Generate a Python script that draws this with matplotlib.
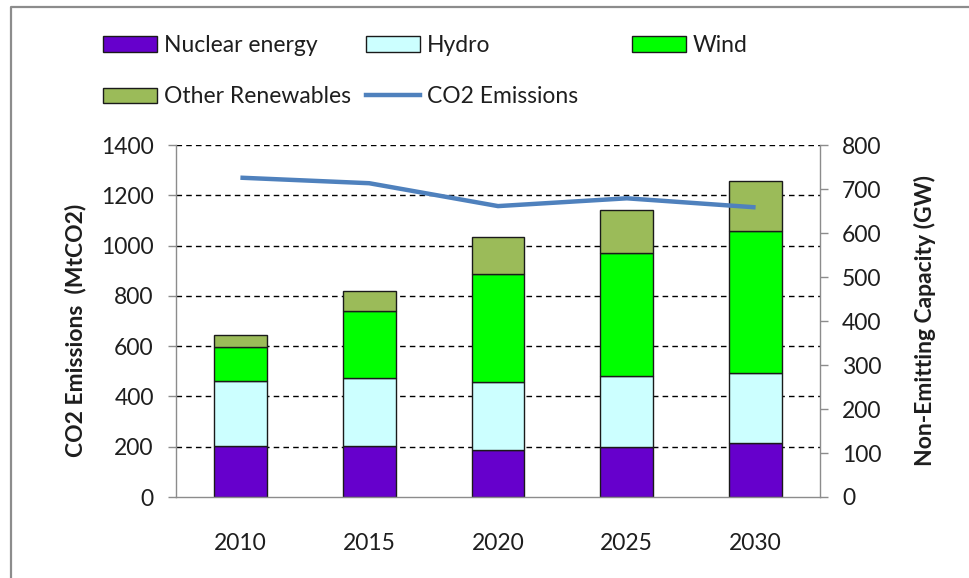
import matplotlib
matplotlib.use("Agg")
import matplotlib.pyplot as plt
from matplotlib.lines import Line2D
from matplotlib.patches import Patch
import numpy as np

# ---------------------------------------------------------------
# data
# ---------------------------------------------------------------
years = ["2010", "2015", "2020", "2025", "2030"]
nuclear = [116, 116, 107, 114, 122]     # GW
hydro = [148, 154, 155, 160, 160]       # GW
wind = [76, 152, 244, 280, 323]         # GW
other = [29, 46, 84, 99, 113]           # GW
co2 = [1270, 1248, 1157, 1188, 1152]    # MtCO2

co2_ticks = [0, 200, 400, 600, 800, 1000, 1200, 1400]
cap_ticks = [0, 100, 200, 300, 400, 500, 600, 700, 800]

COLORS = {
    "Nuclear energy": "#6600CC",
    "Hydro": "#CCFFFF",
    "Wind": "#00FF00",
    "Other Renewables": "#9BBB59",
}
LINE_COLOR = "#4F81BD"
AXIS_GRAY = "#8C8C8C"
TXT = "#1E1E1E"

plt.rcParams["font.family"] = ["Lato", "DejaVu Sans"]
plt.rcParams["font.size"] = 16

fig = plt.figure(figsize=(9.7, 5.78), dpi=100)
ax = fig.add_axes([176 / 970, 1 - 497 / 578, 644 / 970, 352 / 578])
ax2 = ax.twinx()

# line axis on top of bar axis
ax.set_zorder(ax2.get_zorder() + 1)
ax.patch.set_visible(False)

x = np.arange(len(years))
w = 0.41

# ---------------------------------------------------------------
# bars (right axis, GW)
# ---------------------------------------------------------------
bottom = np.zeros(len(years))
series = [("Nuclear energy", nuclear), ("Hydro", hydro),
          ("Wind", wind), ("Other Renewables", other)]
for name, vals in series:
    ax2.bar(x, vals, w, bottom=bottom, color=COLORS[name],
            edgecolor="#1a1a1a", linewidth=1.0, zorder=2)
    bottom += np.array(vals)

ax2.set_ylim(0, cap_ticks[-1])
ax.set_ylim(0, co2_ticks[-1])
ax.set_xlim(-0.5, len(years) - 0.5)

# dashed grid at the left-axis ticks, drawn under the bars
scale = cap_ticks[-1] / co2_ticks[-1]
for t in co2_ticks[1:]:
    ax2.axhline(t * scale, color="black", lw=1.0,
                linestyle=(0, (4, 3)), zorder=0)

# ---------------------------------------------------------------
# CO2 line (left axis)
# ---------------------------------------------------------------
ax.plot(x, co2, color=LINE_COLOR, lw=3.2, solid_capstyle="butt", zorder=5)

# ---------------------------------------------------------------
# axes styling
# ---------------------------------------------------------------
ax.set_yticks(co2_ticks)
ax2.set_yticks(cap_ticks)
ax.set_xticks(np.arange(-0.5, len(years)), minor=False)
ax.set_xticklabels([])
ax.set_xticks(x, minor=True)
ax.set_xticklabels(years, minor=True)
ax2.set_xticks([])

ax.tick_params(axis="x", which="major", length=6, width=1, color=AXIS_GRAY,
               direction="out")
ax.tick_params(axis="x", which="minor", length=0, pad=26, colors=TXT,
               labelsize=16.5)
ax.tick_params(axis="y", length=6, width=1, color=AXIS_GRAY, pad=10,
               labelcolor=TXT, labelsize=16.5)
ax2.tick_params(axis="y", length=6, width=1, color=AXIS_GRAY, pad=10,
                labelcolor=TXT, labelsize=16.5)

for a in (ax, ax2):
    a.spines["top"].set_visible(False)
    for s in ("left", "right", "bottom"):
        a.spines[s].set_color(AXIS_GRAY)
        a.spines[s].set_linewidth(1.0)
ax.spines["right"].set_visible(False)
ax2.spines["left"].set_visible(False)
ax2.spines["bottom"].set_visible(False)

fig.text(76 / 970, 1 - 330 / 578, "CO2 Emissions  (MtCO2)", rotation=90,
         ha="center", va="center", fontsize=16.5, fontweight="bold", color=TXT)
fig.text(925 / 970, 1 - 321 / 578, "Non-Emitting Capacity (GW)", rotation=90,
         ha="center", va="center", fontsize=16.5, fontweight="bold", color=TXT)

# ---------------------------------------------------------------
# legend: three columns
# ---------------------------------------------------------------
def patch(name):
    return Patch(facecolor=COLORS[name], edgecolor="#1a1a1a", linewidth=1.0)

cols = [
    ([patch("Nuclear energy"), patch("Other Renewables")],
     ["Nuclear energy", "Other Renewables"], 103),
    ([patch("Hydro"), Line2D([], [], color=LINE_COLOR, lw=3.2)],
     ["Hydro", "CO2 Emissions"], 366),
    ([patch("Wind")], ["Wind"], 632),
]
for handles, labels, xpx in cols:
    fig.legend(handles, labels, loc="upper left",
               bbox_to_anchor=(xpx / 970, 1 - 35 / 578),
               frameon=False, borderpad=0, borderaxespad=0,
               handlelength=2.35, handleheight=0.65, handletextpad=0.3,
               labelspacing=1.32, fontsize=16.5, labelcolor=TXT)

# outer chart border (top and left)
fig.add_artist(Line2D([11 / 970, 11 / 970, 1], [0, 1 - 7 / 578, 1 - 7 / 578],
                      color=AXIS_GRAY, lw=1.6, transform=fig.transFigure))

fig.savefig("out.png", dpi=100)
